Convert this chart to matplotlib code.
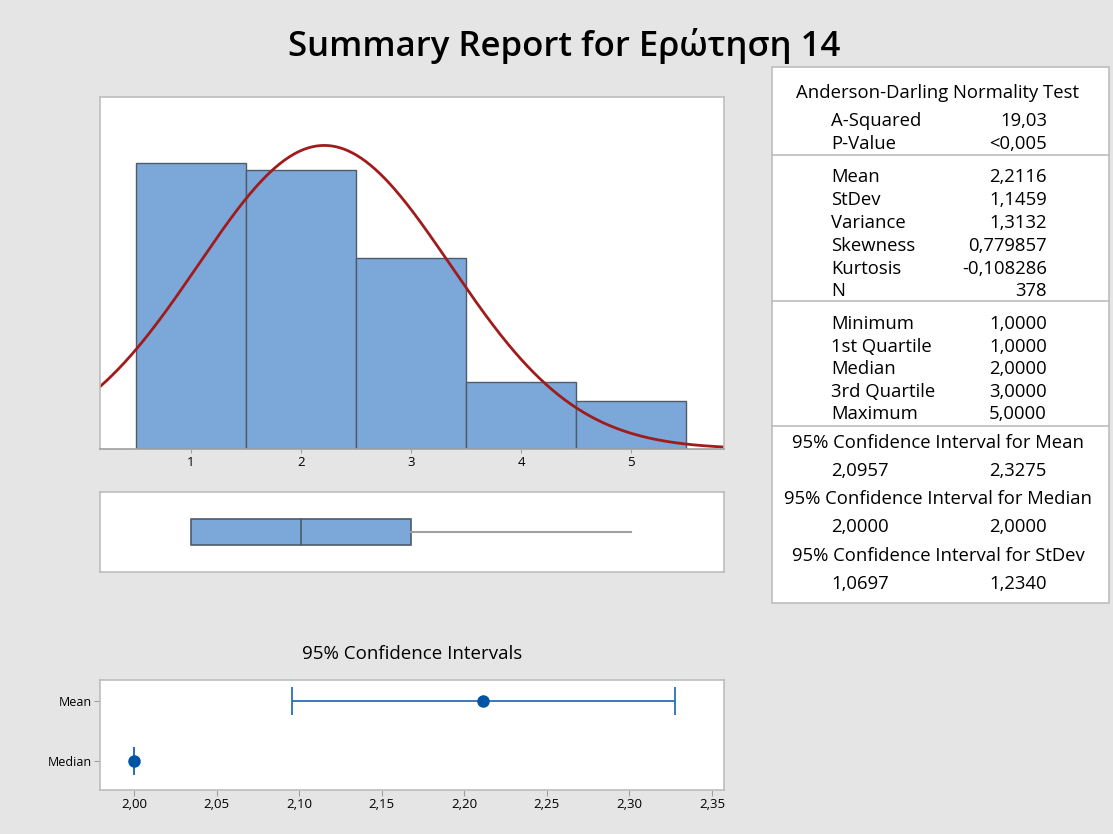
import numpy as np
import matplotlib.pyplot as plt
from matplotlib.patches import Rectangle
from matplotlib.ticker import FuncFormatter

# data
values = [1, 2, 3, 4, 5]
counts = [124, 121, 83, 29, 21]
mean, stdev, n = 2.2116, 1.1459, 378
q1, median, q3, vmin, vmax = 1.0, 2.0, 3.0, 1.0, 5.0
ci_mean = (2.0957, 2.3275)
ci_median = (2.0000, 2.0000)

ad_rows = [("A-Squared", "19,03"), ("P-Value", "<0,005")]
moment_rows = [("Mean", "2,2116"), ("StDev", "1,1459"), ("Variance", "1,3132"),
               ("Skewness", "0,779857"), ("Kurtosis", "-0,108286"), ("N", "378")]
quant_rows = [("Minimum", "1,0000"), ("1st Quartile", "1,0000"), ("Median", "2,0000"),
              ("3rd Quartile", "3,0000"), ("Maximum", "5,0000")]
ci_rows = [("95% Confidence Interval for Mean", "2,0957", "2,3275"),
           ("95% Confidence Interval for Median", "2,0000", "2,0000"),
           ("95% Confidence Interval for StDev", "1,0697", "1,2340")]

W, H = 1113, 834
BG = "#E5E5E5"
BAR = "#7BA7D9"
EDGE = "#4E5B6A"
RED = "#A01C1C"
BLUE = "#0054A6"
FRAME = "#BDBDBD"
FONT = ["Open Sans", "DejaVu Sans"]

plt.rcParams['font.family'] = FONT

fig = plt.figure(figsize=(W / 100, H / 100), dpi=100, facecolor=BG)


def rect(x0, y0, x1, y1):
    return [x0 / W, 1 - y1 / H, (x1 - x0) / W, (y1 - y0) / H]


def comma(v, pos):
    return f"{v:.2f}".replace(".", ",")


def frame(ax):
    for s in ax.spines.values():
        s.set_color(FRAME)
        s.set_linewidth(1.2)


# overlay for table and title
ov = fig.add_axes([0, 0, 1, 1])
ov.set_xlim(0, W)
ov.set_ylim(H, 0)
ov.axis('off')

fig.text(564 / W, 1 - 46 / H, "Summary Report for Ερώτηση 14", ha='center', va='center',
         fontsize=25, fontweight='semibold')

# histogram
ax = fig.add_axes(rect(100, 97, 724, 449))
ax.bar(values, counts, width=1.0, color=BAR, edgecolor=EDGE, linewidth=1.0)
xs = np.linspace(0.17, 5.85, 400)
pdf = n / (stdev * np.sqrt(2 * np.pi)) * np.exp(-0.5 * ((xs - mean) / stdev) ** 2)
ax.plot(xs, pdf, color=RED, linewidth=2)
ax.set_xlim(0.173, 5.845)
ax.set_ylim(0, 152.6)
ax.set_xticks(values)
ax.set_yticks([])
frame(ax)
ax.spines['bottom'].set_color("#A0A0A0")
ax.tick_params(axis='x', colors="#A0A0A0", labelcolor="black", labelsize=9.5, length=3, pad=2)

# boxplot
bx = fig.add_axes(rect(100, 492, 724, 572))
bx.add_patch(Rectangle((q1, -0.35), q3 - q1, 0.7, facecolor=BAR, edgecolor=EDGE, linewidth=1.2))
bx.plot([median, median], [-0.35, 0.35], color=EDGE, linewidth=1.2)
bx.plot([q3, vmax], [0, 0], color="#A0A0A0", linewidth=1.5)
bx.set_xlim(0.173, 5.845)
bx.set_ylim(-1.04, 1.04)
bx.set_xticks([])
bx.set_yticks([])
frame(bx)

# confidence intervals
cx = fig.add_axes(rect(100, 680, 724, 790))
cx.errorbar([mean], [1], xerr=[[mean - ci_mean[0]], [ci_mean[1] - mean]], fmt='o',
            color=BLUE, ecolor="#2A6EBB", elinewidth=1.3, capsize=10, capthick=1.3, markersize=8)
cx.errorbar([median], [0], xerr=[[median - ci_median[0]], [ci_median[1] - median]], fmt='o',
            color=BLUE, ecolor="#2A6EBB", elinewidth=1.3, capsize=10, capthick=1.3, markersize=8)
cx.set_xlim(1.9794, 2.3573)
cx.set_ylim(-0.48, 1.35)
cx.set_xticks(np.arange(2.00, 2.351, 0.05))
cx.xaxis.set_major_formatter(FuncFormatter(comma))
cx.set_yticks([1, 0])
cx.set_yticklabels(["Mean", "Median"])
frame(cx)
cx.tick_params(colors="#A0A0A0", labelcolor="black", labelsize=9.5, length=4, pad=2)
cx.tick_params(axis='y', labelsize=9)
cx.set_title("95% Confidence Intervals", fontsize=13.5, pad=15)

# statistics table
ov.add_patch(Rectangle((772, 67), 1109 - 772, 603 - 67, facecolor="white",
                       edgecolor=FRAME, linewidth=1.2))
for y in [155, 301, 426]:
    ov.plot([772, 1109], [y, y], color=FRAME, linewidth=1.2)

FS = 13.3
LX, RX = 831, 1047
ov.text(938, 93, "Anderson-Darling Normality Test", ha='center', va='center', fontsize=FS)
for (lab, val), y in zip(ad_rows, [121, 144]):
    ov.text(LX, y, lab, ha='left', va='center', fontsize=FS)
    ov.text(RX, y, val, ha='right', va='center', fontsize=FS)
for (lab, val), y in zip(moment_rows, [177, 200, 223, 246, 269, 291]):
    ov.text(LX, y, lab, ha='left', va='center', fontsize=FS)
    ov.text(RX, y, val, ha='right', va='center', fontsize=FS)
for (lab, val), y in zip(quant_rows, [324, 347, 369, 392, 414]):
    ov.text(LX, y, lab, ha='left', va='center', fontsize=FS)
    ov.text(RX, y, val, ha='right', va='center', fontsize=FS)
for (lab, lo, hi), y in zip(ci_rows, [443, 499, 556]):
    ov.text(938, y, lab, ha='center', va='center', fontsize=FS)
    ov.text(LX, y + 28, lo, ha='left', va='center', fontsize=FS)
    ov.text(RX, y + 28, hi, ha='right', va='center', fontsize=FS)

fig.savefig("out.png", dpi=100, facecolor=BG)
